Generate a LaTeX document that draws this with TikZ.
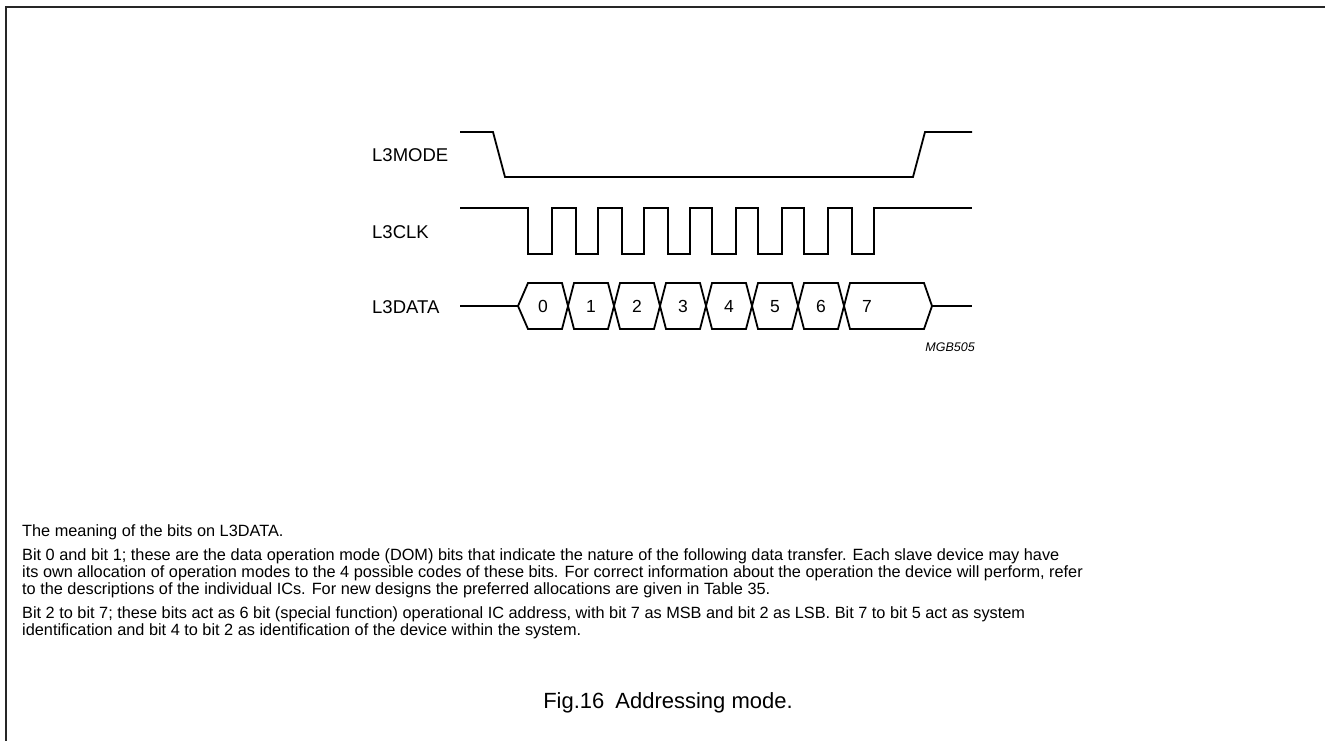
\documentclass[tikz,border=0pt]{standalone}
\usepackage{fontspec}
\setmainfont{Liberation Sans}
\begin{document}
\begin{tikzpicture}[x=1pt,y=-1pt,
  wave/.style={line width=1.8pt, line join=miter},
  frame/.style={line width=2pt, draw=black!85},
  sig/.style={anchor=west, inner sep=0pt, font=\fontsize{18.5}{20}\selectfont},
  digit/.style={anchor=base, inner sep=0pt, font=\fontsize{17.5}{20}\selectfont},
  body/.style={anchor=base west, inner sep=0pt, font=\fontsize{16.3}{17}\selectfont},
  figtitle/.style={anchor=base, inner sep=0pt, font=\fontsize{22}{24}\selectfont},
  code/.style={anchor=east, inner sep=0pt, font=\fontsize{12.5}{14}\selectfont\itshape}]
\useasboundingbox (0,0) rectangle (1325,740);
\draw[frame] (6,741) -- (6,7) -- (1326,7);

% signal labels
\node[sig] (lmode) at (372,155) {L3MODE};
\node[sig] (lclk)  at (372,232) {L3CLK};
\node[sig] (ldata) at (372,307) {L3DATA};

% L3MODE
\draw[wave] (460,132) -- (493,132) -- (505,177) -- (913,177) -- (925,132) -- (972,132);

% L3CLK
\draw[wave] (460,208) -- (528,208)
  -- (528,254) -- (552,254) -- (552,208) -- (576,208)
  -- (576,254) -- (598,254) -- (598,208) -- (622,208)
  -- (622,254) -- (644,254) -- (644,208) -- (668,208)
  -- (668,254) -- (690,254) -- (690,208) -- (712,208)
  -- (712,254) -- (736,254) -- (736,208) -- (758,208)
  -- (758,254) -- (782,254) -- (782,208) -- (804,208)
  -- (804,254) -- (828,254) -- (828,208) -- (852,208)
  -- (852,254) -- (874,254) -- (874,208) -- (972,208);

% L3DATA
\draw[wave] (460,306) -- (518,306);
\draw[wave] (932,306) -- (972,306);
\foreach \a/\b/\wa/\wb in {518/568/10/6, 568/614/6/6, 614/660/6/6, 660/706/6/6,
                           706/752/6/6, 752/798/6/6, 798/844/6/6, 844/932/6/8} {
  \draw[wave] (\a,306) -- (\a+\wa,283) -- (\b-\wb,283) -- (\b,306)
              -- (\b-\wb,329) -- (\a+\wa,329) -- cycle;
}
\node[digit] (d0) at (543,312) {0};
\node[digit] (d1) at (591,312) {1};
\node[digit] (d2) at (637,312) {2};
\node[digit] (d3) at (683,312) {3};
\node[digit] (d4) at (729,312) {4};
\node[digit] (d5) at (775,312) {5};
\node[digit] (d6) at (821,312) {6};
\node[digit] (d7) at (867,312) {7};

\node[code] (mgb) at (975,347) {MGB505};

% text
\node[body] (t0) at (22,536) {The meaning of the bits on L3DATA.};
\node[body] (t1) at (22,560) {Bit 0 and bit 1; these are the data operation mode (DOM) bits that indicate the nature of the following data transfer. Each slave device may have};
\node[body] (t2) at (22,577) {its own allocation of operation modes to the 4 possible codes of these bits. For correct information about the operation the device will perform, refer};
\node[body] (t3) at (22,594) {to the descriptions of the individual ICs. For new designs the preferred allocations are given in Table 35.};
\node[body] (t4) at (22,618) {Bit 2 to bit 7; these bits act as 6 bit (special function) operational IC address, with bit 7 as MSB and bit 2 as LSB. Bit 7 to bit 5 act as system};
\node[body] (t5) at (22,635) {identification and bit 4 to bit 2 as identification of the device within the system.};

\node[figtitle] (title) at (668,708) {Fig.16\enspace Addressing mode.};
\end{tikzpicture}
\end{document}
